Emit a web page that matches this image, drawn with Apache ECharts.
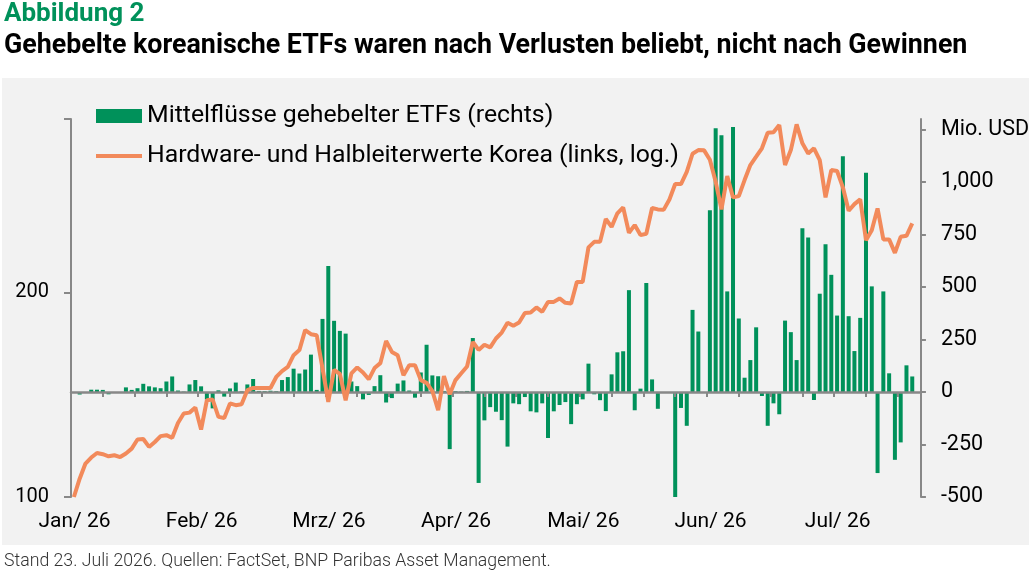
<!DOCTYPE html>
<html lang="de">
<head>
<meta charset="UTF-8" />
<title>Abbildung 2</title>
<script src="https://cdn.jsdelivr.net/npm/echarts@6.0.0/dist/echarts.min.js"></script>
<style>
  html, body { margin: 0; padding: 0; background: #fff; }
  #main { width: 1032px; height: 577px; }
</style>
</head>
<body>
<div id="main"></div>
<script>
  // Hardware- und Halbleiterwerte Korea, Basis 100 am letzten Handelstag 2025 (links, log.)
  var korea = [100, 106.4, 112.0, 114.3, 116.1, 115.6, 114.8, 115.2, 114.5, 115.9, 117.8,
    121.5, 121.7, 118.5, 120.5, 122.9, 123.3, 122.2, 128.5, 132.7, 133.1,
    135.4, 125.7, 138.8, 139.1, 131.2, 130.7, 137.3, 136.5, 136.9, 143.6,
    144.7, 144.7, 144.7, 144.7, 150.2, 153.2, 155.4, 161.7, 164.5, 176.0,
    173.6, 173.0, 154.6, 138.0, 153.9, 151.8, 138.8, 152.0, 155.1, 152.5,
    149.0, 154.8, 157.4, 169.7, 163.5, 161.7, 151.1, 156.3, 156.3, 148.6,
    147.2, 143.2, 134.2, 150.6, 141.6, 148.6, 152.1, 155.6, 169.1, 164.6,
    167.5, 166.0, 171.1, 174.6, 180.5, 178.6, 180.6, 186.6, 186.9, 190.1,
    187.3, 193.7, 193.7, 196.0, 193.1, 192.6, 207.3, 207.3, 233.0, 237.4,
    237.4, 256.5, 249.8, 261.5, 266.8, 244.8, 251.3, 242.9, 244.0, 266.3,
    265.0, 264.6, 274.0, 288.8, 288.8, 301.0, 320.0, 324.0, 323.7, 313.6,
    291.0, 265.0, 296.7, 276.0, 277.2, 292.7, 308.0, 316.8, 326.0, 343.6,
    344.2, 352.7, 308.0, 324.0, 353.5, 331.5, 320.4, 326.0, 313.2, 276.0,
    302.8, 301.8, 285.6, 263.8, 269.8, 274.2, 238.8, 247.0, 265.9, 239.4,
    239.4, 228.7, 241.5, 242.3, 252.7];

  // Mittelflüsse gehebelter ETFs, Mio. USD, ab dem ersten Handelstag (rechts)
  var flows = [-12, -3, 11, 11, 10, -11, -4, -3, 22, 10,
    18, 39, 27, 22, 18, 50, 74, 7, 2, 36,
    57, 27, -36, -78, 8, -22, 17, 45, 3, 36,
    62, 5, 4, 6, 4, 57, 71, 111, 88, 107,
    178, 10, 348, 600, 339, 291, 278, 50, 28, -35,
    -14, 28, 80, -50, -29, 40, 55, 7, -27, 93,
    225, 79, 75, 5, -272, 4, 2, 5, 257, -433,
    -135, -72, -94, -134, -260, -54, -58, -24, -92, -97,
    -54, -219, -92, -62, -48, -153, -58, -35, 135, -11,
    -39, -91, 84, 189, 194, 485, -87, 16, 519, 60,
    -80, 0, 0, -504, -76, -161, 391, 288, 0, 865,
    1256, 1223, 479, 1262, 350, 68, 152, 308, -19, -161,
    -54, -106, 340, 285, 152, 780, 736, -38, 468, 704,
    558, 364, 1123, 361, 195, 353, 1044, 503, -386, 479,
    89, -323, -240, 127, 74];

  var monthLabels = ['Jan/ 26', 'Feb/ 26', 'Mrz/ 26', 'Apr/ 26', 'Mai/ 26', 'Jun/ 26', 'Jul/ 26'];
  var monthStart = [0, 22, 44, 66, 88, 110, 132];   // Slot des Monatslabels
  var rightTicks = [-500, -250, 0, 250, 500, 750, 1000, 1250];
  var leftTicks = [100, 200];
  var leftMin = 100, leftMax = 360;
  var rightMin = -500, rightMax = 1300;
  var slots = 147;       // Basistag + Handelstage + ein freier Platz
  var tickStep = 5.5;    // Teilstriche auf der Nulllinie

  var green = '#00915A', orange = '#F28A5B', axisGray = '#888888';
  var font = 'Roboto';

  var days = [];
  for (var i = 0; i < slots; i++) days.push(String(i));
  var barData = [null].concat(flows);   // kein Fluss am Basistag
  var xTicks = [];
  for (var t = 0; t <= slots; t += tickStep) xTicks.push(t);
  var leftSpan = Math.log2(leftMax / leftMin);
  var leftPos = leftTicks.map(function (v) { return Math.log2(v / leftMin); });

  var chart = echarts.init(document.getElementById('main'));
  var option = {
    animation: false,
    backgroundColor: '#ffffff',
    textStyle: { fontFamily: font },
    graphic: [{
      type: 'rect', z: -10, silent: true,
      shape: { x: 2, y: 78, width: 1027, height: 467 },
      style: { fill: '#f2f2f2' }
    }],
    title: [
      { text: 'Abbildung 2', left: 4, top: 1, padding: 0,
        textStyle: { color: green, fontSize: 26, fontWeight: 'bold', fontFamily: font, lineHeight: 26 } },
      { text: 'Gehebelte koreanische ETFs waren nach Verlusten beliebt, nicht nach Gewinnen', left: 4, top: 33, padding: 0,
        textStyle: { color: '#000', fontSize: 26.8, fontWeight: 'bold', fontFamily: font, lineHeight: 27 } },
      { text: 'Stand 23. Juli 2026. Quellen: FactSet, BNP Paribas Asset Management.', left: 4, top: 553, padding: 0,
        textStyle: { color: '#333', fontSize: 17.7, fontWeight: 300, fontFamily: font, lineHeight: 18 } }
    ],
    legend: {
      orient: 'vertical', left: 96, top: 101, padding: 0,
      itemWidth: 46, itemHeight: 14, itemGap: 10,
      textStyle: { fontSize: 24.8, color: '#000', fontFamily: font, lineHeight: 24, padding: [0, 0, 6, 0] },
      data: [
        { name: 'Mittelflüsse gehebelter ETFs (rechts)', icon: 'rect' },
        { name: 'Hardware- und Halbleiterwerte Korea (links, log.)', icon: 'path://M0,0H46V4H0Z' }
      ]
    },
    grid: { left: 71, right: 111, top: 119, bottom: 80 },
    xAxis: [
      { type: 'category', data: days, position: 'bottom',
        axisLine: { show: false, onZero: false }, axisTick: { show: false }, axisLabel: { show: false } },
      { type: 'value', min: 0, max: slots, position: 'bottom', z: 3,
        axisLine: { show: true, onZero: true, onZeroAxisIndex: 1, lineStyle: { color: axisGray, width: 2.5 } },
        axisTick: { show: true, length: 5, customValues: xTicks, lineStyle: { color: axisGray, width: 2 } },
        axisLabel: { show: false }, splitLine: { show: false } },
      { type: 'value', min: 0, max: slots, position: 'bottom',
        axisLine: { show: false, onZero: false }, axisTick: { show: false }, splitLine: { show: false },
        axisLabel: { show: true, customValues: monthStart, margin: 14, padding: [0, 0, 0, 7],
          color: '#000', fontSize: 21, fontFamily: font,
          formatter: function (v) { return monthLabels[monthStart.indexOf(v)]; } } }
    ],
    yAxis: [
      { type: 'log', min: leftMin, max: leftMax, position: 'left',
        axisLine: { show: false, onZero: false }, axisTick: { show: false },
        axisLabel: { show: false }, splitLine: { show: false } },
      { type: 'value', min: rightMin, max: rightMax, position: 'right',
        axisLine: { show: true, onZero: false, lineStyle: { color: axisGray, width: 2 } },
        axisTick: { show: true, length: 5, customValues: rightTicks, lineStyle: { color: axisGray, width: 2 } },
        axisLabel: { customValues: rightTicks, margin: 20, color: '#000', fontSize: 21.5, fontFamily: font,
          formatter: function (v) { return v === 1250 ? 'Mio. USD' : v.toLocaleString('en-US'); } },
        splitLine: { show: false } },
      { type: 'value', min: 0, max: leftSpan, position: 'left',
        axisLine: { show: true, onZero: false, lineStyle: { color: axisGray, width: 2 } },
        axisTick: { show: true, length: 7, customValues: leftPos.concat([leftSpan]), lineStyle: { color: axisGray, width: 2 } },
        axisLabel: { customValues: leftPos, margin: 22, color: '#000', fontSize: 20, fontFamily: font,
          formatter: function (v) { return String(Math.round(leftMin * Math.pow(2, v))); } },
        splitLine: { show: false } }
    ],
    series: [
      { name: 'Mittelflüsse gehebelter ETFs (rechts)', type: 'bar', xAxisIndex: 0, yAxisIndex: 1,
        data: barData, barWidth: 4, itemStyle: { color: green }, z: 2 },
      { name: 'Hardware- und Halbleiterwerte Korea (links, log.)', type: 'line', xAxisIndex: 0, yAxisIndex: 0,
        data: korea, symbol: 'none', lineStyle: { color: orange, width: 4 }, itemStyle: { color: orange }, z: 5 }
    ]
  };
  chart.setOption(option);
</script>
</body>
</html>
